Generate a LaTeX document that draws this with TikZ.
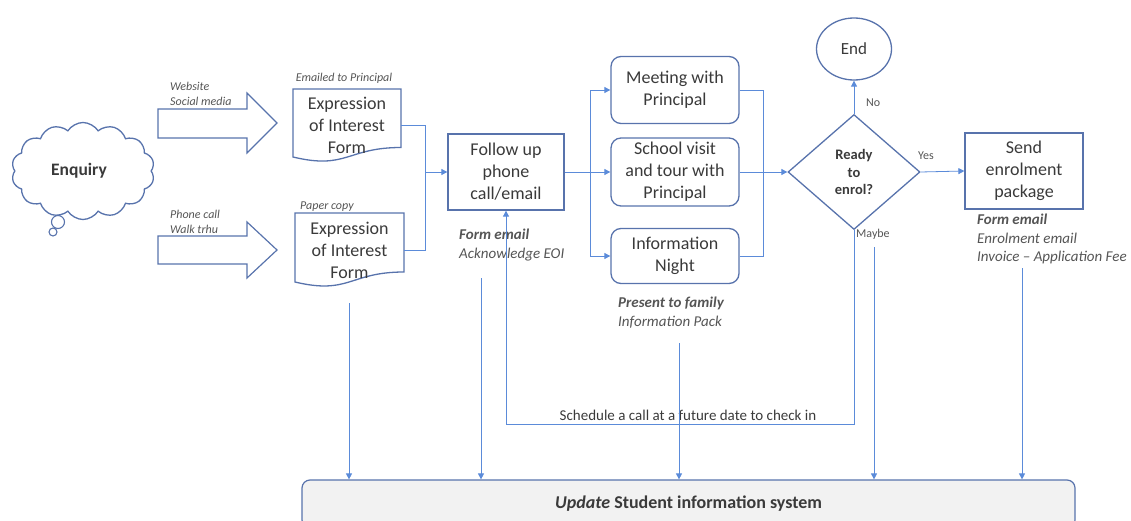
\documentclass[tikz,border=0pt]{standalone}
\usepackage{fontspec}
\setmainfont{Carlito}
\usetikzlibrary{shapes.geometric,shapes.symbols,arrows.meta,calc}
\definecolor{shapeblue}{HTML}{5873AC}
\definecolor{lineblue}{HTML}{5B8BD9}
\definecolor{txt}{HTML}{3A3A3A}
\definecolor{notegray}{HTML}{555555}
\definecolor{sysfill}{HTML}{F2F2F2}
\begin{document}
\begin{tikzpicture}[x=1pt,y=-1pt,
  shp/.style={draw=shapeblue, line width=1.3pt},
  boxtext/.style={text=txt, align=center, font=\fontsize{18}{22}\selectfont, inner sep=0pt},
  conn/.style={draw=lineblue, line width=0.8pt},
  arrow/.style={conn, -{Triangle[length=6pt,width=6pt]}},
  notetext/.style={text=notegray, align=left, inner sep=0pt, anchor=north west},
  smallnote/.style={notetext, font=\fontsize{12}{14.5}\selectfont\itshape},
  mednote/.style={notetext, font=\fontsize{15}{18.5}\selectfont\itshape},
  branch/.style={text=notegray, inner sep=0pt, anchor=west, font=\fontsize{12}{14}\selectfont}]
\useasboundingbox (0,0) rectangle (1131,521);

% Enquiry cloud
\node[cloud, shp, cloud puffs=14, cloud puff arc=115, minimum width=143pt, minimum height=97pt,
      text=txt, font=\fontsize{17.5}{20}\selectfont\bfseries] (enq) at (83,171) {\hspace*{-8pt}Enquiry};
\draw[shp, line width=1.1pt] (58,222) circle[radius=6.5pt];
\draw[shp, line width=1.1pt] (53,232) circle[radius=4pt];

% block arrows
\draw[shp, line width=1.2pt] (158,109) -- (247,109) -- (247,93) -- (277,123) -- (247,153) -- (247,138) -- (158,138) -- cycle;
\draw[shp, line width=1.2pt] (158,236) -- (247,236) -- (247,222) -- (277,250) -- (247,278) -- (247,264) -- (158,264) -- cycle;
\node[smallnote] (lweb) at (170,82) {Website\\Social media};
\node[smallnote] (lphone) at (170,210) {Phone call\\Walk trhu};

% documents
\draw[shp] (293,89) -- (401,89) -- (401,147.5) .. controls (347,147.5) and (347,170) .. (293,157) -- cycle;
\node[boxtext, minimum width=108pt, minimum height=60pt] (doc1) at (347,125) {Expression\\of Interest\\Form};
\node[smallnote, anchor=north] (lemail) at (344,73) {Emailed to Principal};

\draw[shp] (295,213) -- (404,213) -- (404,272) .. controls (349.5,272) and (349.5,295) .. (295,282) -- cycle;
\node[boxtext, minimum width=109pt, minimum height=60pt] (doc2) at (349.5,250) {Expression\\of Interest\\Form};
\node[smallnote] (lpaper) at (300,202) {Paper copy};

% follow up
\node[shp, boxtext, minimum width=116pt, minimum height=76pt] (follow) at (506,172) {Follow up\\phone\\call/email};
\node[mednote] (lfollow) at (459,229) {\textbf{Form email}\\Acknowledge EOI};

% options
\node[shp, boxtext, rounded corners=10pt, minimum width=128pt, minimum height=67pt] (meet) at (675,90) {Meeting with\\Principal};
\node[shp, boxtext, rounded corners=10pt, minimum width=128pt, minimum height=68pt] (school) at (675,172) {School visit\\and tour with\\Principal};
\node[shp, boxtext, rounded corners=10pt, minimum width=128pt, minimum height=55pt] (info) at (675,256) {Information\\Night};
\node[mednote] (linfo) at (618,297) {\textbf{Present to family}\\Information Pack};

% decision
\node[shp, diamond, minimum width=132pt, minimum height=115pt, inner sep=0pt, align=center,
      text=txt, font=\fontsize{14.5}{17.5}\selectfont\bfseries] (dec) at (854,172) {Ready\\to\\enrol?};
\node[shp, ellipse, boxtext, font=\fontsize{17}{20}\selectfont, minimum width=75pt, minimum height=62pt] (end) at (854,49) {End};
\node[shp, boxtext, minimum width=118pt, minimum height=76pt] (send) at (1024,171) {Send\\enrolment\\package};
\node[mednote] (lsend) at (977,214) {\textbf{Form email}\\Enrolment email\\Invoice -- Application Fee};

\node[branch] (lno) at (866,103) {No};
\node[branch] (lyes) at (918,156) {Yes};
\node[branch] (lmaybe) at (856,234) {Maybe};

% system box
\node[draw=shapeblue, line width=1.2pt, fill=sysfill, rounded corners=8pt, minimum width=773pt,
      minimum height=48pt, text=txt, font=\fontsize{18}{20}\selectfont\bfseries] (sis) at (688.5,504)
      {\textit{Update} Student information system};

% connectors
\coordinate (j) at (425,172);
\draw[conn] (doc1.east) -| (j);
\draw[conn] (doc2.east) -| (j);
\draw[arrow] (j) -- (follow.west);

\coordinate (s) at (590,172);
\draw[conn] (follow.east) -- (s);
\draw[arrow] (s) |- (meet.west);
\draw[arrow] (s) -- (school.west);
\draw[arrow] (s) |- (info.west);

\coordinate (m) at (763,172);
\draw[conn] (meet.east) -| (m);
\draw[conn] (info.east) -| (m);
\draw[conn] (school.east) -- (m);
\draw[arrow] (m) -- (dec.west);

\draw[arrow] (dec.north) -- (end.south);
\draw[arrow] (dec.east) -- (send.west);

\coordinate (lb1) at (854,424);
\coordinate (lb2) at (506,424);
\draw[arrow] (dec.south) -- (lb1) -- (lb2) -- (follow.south);
\node[text=txt, inner sep=0pt, font=\fontsize{15}{17}\selectfont] (lsched) at (688,415) {Schedule a call at a future date to check in};

\coordinate (u1) at (349,303);
\coordinate (u2) at (481,278);
\coordinate (u3) at (679,343);
\coordinate (u4) at (874,247);
\coordinate (u5) at (1022,268);
\foreach \u in {u1,u2,u3,u4,u5}{
  \draw[arrow] (\u) -- (sis.north -| \u);
}
\end{tikzpicture}
\end{document}
